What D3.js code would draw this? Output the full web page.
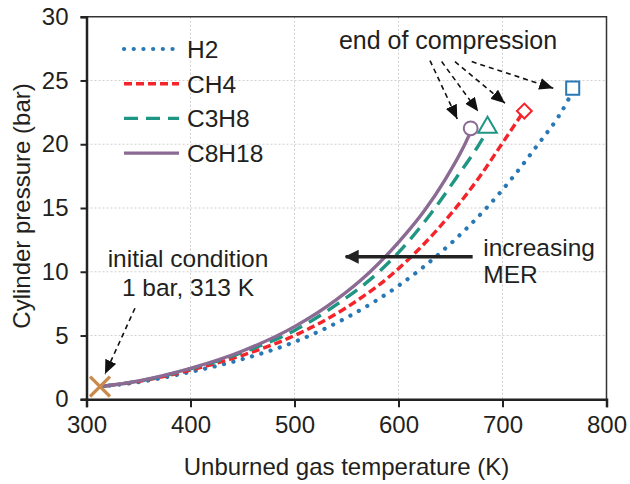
<!DOCTYPE html>
<html>
<head>
<meta charset="utf-8">
<script src="https://cdn.jsdelivr.net/npm/d3@7"></script>
<style>
  body { margin: 0; background: #fff; }
  text { font-family: "Liberation Sans", Arial, sans-serif; fill: #231f20; }
</style>
</head>
<body>
<script>
//chart data
const fuels = ["H2", "CH4", "C3H8", "C8H18"];
const colors = ["#2878b5", "#f5232a", "#1f9683", "#8b6a93"];
const tempTicks = [300, 400, 500, 600, 700, 800];
const presTicks = [0, 5, 10, 15, 20, 25, 30];

const h2T = [313, 350, 400, 450, 500, 550, 600, 650, 684, 731, 762, 767];
const h2P = [1.0, 1.35, 2.15, 3.15, 4.5, 6.4, 8.9, 12.2, 14.95, 19.65, 23.3, 24.1];
const ch4T = [313, 350, 400, 450, 500, 550, 596, 620, 652, 678, 700, 721];
const ch4P = [1.0, 1.4, 2.29, 3.45, 5.0, 7.2, 9.95, 11.8, 14.7, 17.45, 20.1, 22.65];
const c3h8T = [313, 350, 400, 450, 500, 540, 581, 601, 631, 655, 678, 686];
const c3h8P = [1.0, 1.42, 2.39, 3.68, 5.4, 7.4, 9.98, 11.6, 14.55, 17.3, 20.05, 21.15];
const c8h18T = [313, 350, 400, 450, 500, 540, 572, 601, 625, 645, 662, 669];
const c8h18P = [1.0, 1.45, 2.43, 3.79, 5.7, 7.8, 9.95, 12.4, 14.8, 17.25, 19.7, 20.9];

//end of compression points (marker per fuel)
const endT = [767.5, 721, 685.6, 669.4];
const endP = [24.4, 22.6, 21.4, 21.25];
const endShapes = ["square", "diamond", "triangle", "circle"];

//initial condition
const initT = 313, initP = 1.0;

//svg setup
const width = 630;
const height = 484;
const margin = {left: 86.5, right: 23.5, top: 16.7, bottom: 84.7};
const plotW = width - margin.left - margin.right;
const plotH = height - margin.top - margin.bottom;

let svg = d3.select("body").append("svg")
  .attr("width", width)
  .attr("height", height);

let x = d3.scaleLinear().domain([300, 800]).range([0, plotW]);
let y = d3.scaleLinear().domain([0, 30]).range([plotH, 0]);

let plot = svg.append("g")
  .attr("transform", "translate(" + margin.left + "," + margin.top + ")");

//arrowhead markers
let defs = svg.append("defs");
defs.append("marker")
  .attr("id", "head")
  .attr("markerUnits", "userSpaceOnUse")
  .attr("viewBox", "0 0 14 12")
  .attr("refX", 14).attr("refY", 6)
  .attr("markerWidth", 14).attr("markerHeight", 12)
  .attr("orient", "auto")
  .append("path").attr("d", "M0,0 L14,6 L0,12 Z").attr("fill", "#111");
defs.append("marker")
  .attr("id", "bighead")
  .attr("markerUnits", "userSpaceOnUse")
  .attr("viewBox", "0 0 14 14")
  .attr("refX", 13).attr("refY", 7)
  .attr("markerWidth", 14).attr("markerHeight", 14)
  .attr("orient", "auto")
  .append("path").attr("d", "M0,0 L14,7 L0,14 Z").attr("fill", "#222");

//gridlines
plot.append("g").selectAll("line")
  .data(tempTicks.slice(1, -1))
  .enter().append("line")
    .attr("x1", d => x(d)).attr("x2", d => x(d))
    .attr("y1", 0).attr("y2", plotH)
    .attr("stroke", "#cfcfcf").attr("stroke-dasharray", "2 2");
plot.append("g").selectAll("line")
  .data(presTicks.slice(1, -1))
  .enter().append("line")
    .attr("x1", 0).attr("x2", plotW)
    .attr("y1", d => y(d)).attr("y2", d => y(d))
    .attr("stroke", "#cfcfcf").attr("stroke-dasharray", "2 2");

//frame top and right
plot.append("path")
  .attr("d", "M0,0 H" + plotW + " V" + plotH)
  .attr("fill", "none").attr("stroke", "#333").attr("stroke-width", 1.5);

//axes
let xAxis = plot.append("g")
  .attr("transform", "translate(0," + plotH + ")")
  .call(d3.axisBottom(x).tickValues(tempTicks).tickSize(8).tickPadding(9));
let yAxis = plot.append("g")
  .call(d3.axisLeft(y).tickValues(presTicks).tickSize(6).tickPadding(12));
[xAxis, yAxis].forEach(function(ax){
  ax.select(".domain").attr("stroke", "#222").attr("stroke-width", 2.5);
  ax.selectAll(".tick line").attr("stroke", "#222").attr("stroke-width", 2);
  ax.selectAll(".tick text")
    .style("font-family", '"Liberation Sans", Arial, sans-serif')
    .style("font-size", "24px").attr("fill", "#231f20");
});

//axis titles
svg.append("text")
  .attr("x", margin.left + plotW / 2).attr("y", 475)
  .attr("text-anchor", "middle")
  .style("font-size", "24px")
  .text("Unburned gas temperature (K)");
svg.append("text")
  .attr("transform", "translate(30," + (margin.top + plotH / 2 - 2) + ") rotate(-90)")
  .attr("text-anchor", "middle")
  .style("font-size", "24px")
  .text("Cylinder pressure (bar)");

//series
const seriesT = [h2T, ch4T, c3h8T, c8h18T];
const seriesP = [h2P, ch4P, c3h8P, c8h18P];
const dashes = ["0.1 9.6", "8 4", "14 8", null];
const caps = ["round", "butt", "butt", "butt"];
const widths = [4.2, 3.4, 3.4, 3.4];

let lineGen = d3.line()
  .x(d => x(d[0]))
  .y(d => y(d[1]))
  .curve(d3.curveMonotoneX);

fuels.forEach(function(f, i){
  let pts = seriesT[i].map((t, j) => [t, seriesP[i][j]]);
  plot.append("path")
    .datum(pts)
    .attr("d", lineGen)
    .attr("fill", "none")
    .attr("stroke", colors[i])
    .attr("stroke-width", widths[i])
    .attr("stroke-linecap", caps[i])
    .attr("stroke-dasharray", dashes[i]);
});

//end markers
let symbolFor = {
  square: d3.symbol().type(d3.symbolSquare).size(170),
  diamond: d3.symbol().type(d3.symbolSquare).size(110),
  triangle: d3.symbol().type(d3.symbolTriangle).size(150),
  circle: d3.symbol().type(d3.symbolCircle).size(150)
};
endShapes.forEach(function(s, i){
  let tr = "translate(" + x(endT[i]) + "," + y(endP[i]) + ")";
  if (s === "diamond") tr += " rotate(45)";
  if (s === "triangle") tr = "translate(" + x(endT[i]) + "," + (y(endP[i]) + 1) + ")";
  plot.append("path")
    .attr("d", symbolFor[s]())
    .attr("transform", tr)
    .attr("fill", "#fff")
    .attr("stroke", colors[i])
    .attr("stroke-width", 2);
});

//initial condition cross
plot.append("path")
  .attr("d", d3.symbol().type(d3.symbolX).size(260)())
  .attr("transform", "translate(" + x(initT) + "," + y(initP) + ")")
  .attr("fill", "none")
  .attr("stroke", "#c98a4b")
  .attr("stroke-width", 3.2);

//legend
let legend = svg.append("g");
fuels.forEach(function(f, i){
  let ly = 49 + i * 34.7;
  legend.append("line")
    .attr("x1", 124).attr("x2", 179)
    .attr("y1", ly).attr("y2", ly)
    .attr("stroke", colors[i])
    .attr("stroke-width", widths[i])
    .attr("stroke-linecap", caps[i])
    .attr("stroke-dasharray", dashes[i]);
  legend.append("text")
    .attr("x", 187).attr("y", ly)
    .attr("dy", "0.36em")
    .style("font-size", "24.5px")
    .text(f);
});

//annotations (positions in data units)
const arrowFrom = [[630.3, 26.56], [641.5, 26.48], [654.3, 26.48], [670.4, 26.48], [346.6, 7.14]];
const arrowTo = [[656.5, 21.98], [676.7, 22.56], [702.4, 23.22], [748.8, 24.39], [317.8, 1.98]];

plot.append("g").selectAll("line")
  .data(arrowFrom)
  .enter().append("line")
    .attr("x1", d => x(d[0])).attr("y1", d => y(d[1]))
    .attr("x2", (d, i) => x(arrowTo[i][0])).attr("y2", (d, i) => y(arrowTo[i][1]))
    .attr("stroke", "#111")
    .attr("stroke-width", 1.6)
    .attr("stroke-dasharray", "5 4")
    .attr("marker-end", "url(#head)");

plot.append("text")
  .attr("x", x(647.6)).attr("y", y(27.45))
  .attr("text-anchor", "middle")
  .style("font-size", "25px")
  .text("end of compression");

plot.append("text")
  .attr("x", x(397.6)).attr("y", y(10.35))
  .attr("text-anchor", "middle")
  .style("font-size", "24.5px")
  .text("initial condition");
plot.append("text")
  .attr("x", x(397.6)).attr("y", y(8.1))
  .attr("text-anchor", "middle")
  .style("font-size", "24.5px")
  .text("1 bar, 313 K");

//increasing MER arrow
plot.append("line")
  .attr("x1", x(671.3)).attr("x2", x(549.2))
  .attr("y1", y(11.18)).attr("y2", y(11.18))
  .attr("stroke", "#222")
  .attr("stroke-width", 3.5)
  .attr("marker-end", "url(#bighead)");
plot.append("text")
  .attr("x", x(681.5)).attr("y", y(11.24))
  .style("font-size", "24.5px")
  .text("increasing");
plot.append("text")
  .attr("x", x(681.5)).attr("y", y(9.12))
  .style("font-size", "24.5px")
  .text("MER");
</script>
</body>
</html>
